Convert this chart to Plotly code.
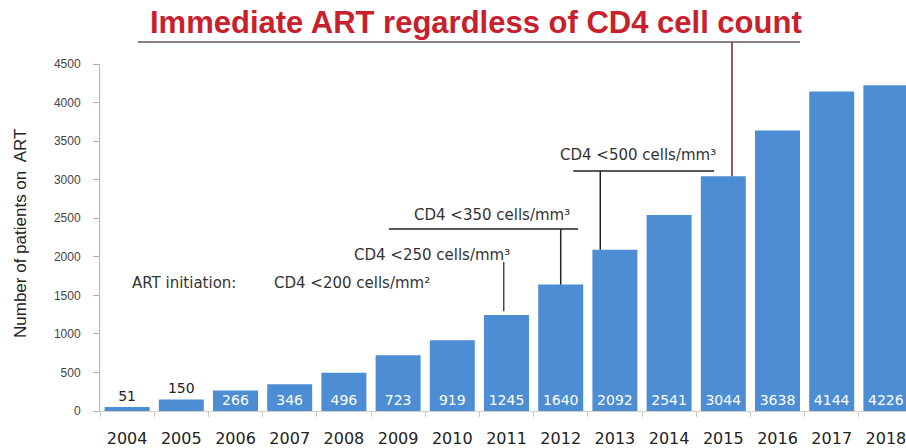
import plotly.graph_objects as go

# Patients on antiretroviral therapy per year
years = [2004, 2005, 2006, 2007, 2008, 2009, 2010, 2011, 2012, 2013, 2014, 2015, 2016, 2017, 2018]
patients = [51, 150, 266, 346, 496, 723, 919, 1245, 1640, 2092, 2541, 3044, 3638, 4144, 4226]
y_ticks = [0, 500, 1000, 1500, 2000, 2500, 3000, 3500, 4000, 4500]

# Guideline thresholds and the year each came into force
guideline_years = [2011, 2012, 2013, 2015]

W, H = 906, 448
ML, MR, MT, MB = 100, 0, 64, 37
PW, PH = W - ML - MR, H - MT - MB
Y_MAX = 4500


def px_x(px):
    return (px - ML) / PW


def px_y(py):
    return (H - MB - py) / PH


def val_from_py(py):
    return (H - MB - py) / PH * Y_MAX


BAR = "#4C8DD3"
TXT = "#333333"
LINE = "#222222"
NOTE_FONT = dict(family="DejaVu Sans", size=15, color=TXT)

fig = go.Figure()
fig.add_trace(go.Bar(
    x=years,
    y=patients,
    width=0.83,
    marker=dict(color=BAR, line=dict(width=0)),
    text=patients,
    texttemplate="%{y}",
    textposition=["outside" if v < 200 else "inside" for v in patients],
    insidetextanchor="start",
    insidetextfont=dict(family="DejaVu Sans", size=14, color="white"),
    outsidetextfont=dict(family="DejaVu Sans", size=14, color="#222222"),
    constraintext="none",
    cliponaxis=False,
    hoverinfo="skip",
))

shapes = []
annotations = []

# Headline with its underline and leader to the 2015 bar
annotations.append(dict(
    text="<b>Immediate ART regardless of CD4 cell count</b>",
    xref="paper", yref="paper", x=px_x(476), y=px_y(22),
    xanchor="center", yanchor="middle", showarrow=False,
    font=dict(family="Liberation Sans", size=31, color="#C8202C"),
))
shapes.append(dict(type="line", xref="paper", yref="paper",
                   x0=px_x(138), x1=px_x(800), y0=px_y(42), y1=px_y(42),
                   line=dict(color="#8C8080", width=2)))
shapes.append(dict(type="line", xref="x", yref="paper",
                   x0=guideline_years[3] + 0.16, x1=guideline_years[3] + 0.16,
                   y0=patients[years.index(guideline_years[3])] / Y_MAX, y1=px_y(42),
                   line=dict(color="#6A2A2A", width=1.5)))

# CD4 < 500
y500 = val_from_py(171)
shapes.append(dict(type="line", xref="x", yref="y",
                   x0=2012.23, x1=2014.83, y0=y500, y1=y500,
                   line=dict(color=LINE, width=1.5)))
shapes.append(dict(type="line", xref="x", yref="y",
                   x0=guideline_years[2] - 0.27, x1=guideline_years[2] - 0.27,
                   y0=patients[years.index(guideline_years[2])], y1=y500,
                   line=dict(color=LINE, width=1.5)))
annotations.append(dict(text="CD4 <500 cells/mm³", xref="paper", yref="paper",
                        x=px_x(718), y=px_y(155), xanchor="right", yanchor="middle",
                        showarrow=False, font=NOTE_FONT))

# CD4 < 350
y350 = val_from_py(229)
shapes.append(dict(type="line", xref="x", yref="y",
                   x0=2008.83, x1=2012.32, y0=y350, y1=y350,
                   line=dict(color=LINE, width=1.5)))
shapes.append(dict(type="line", xref="x", yref="y",
                   x0=guideline_years[1], x1=guideline_years[1],
                   y0=patients[years.index(guideline_years[1])], y1=y350,
                   line=dict(color=LINE, width=1.5)))
annotations.append(dict(text="CD4 <350 cells/mm³", xref="paper", yref="paper",
                        x=px_x(572), y=px_y(215), xanchor="right", yanchor="middle",
                        showarrow=False, font=NOTE_FONT))

# CD4 < 250
y250 = val_from_py(262)
shapes.append(dict(type="line", xref="x", yref="y",
                   x0=guideline_years[0] - 0.05, x1=guideline_years[0] - 0.05,
                   y0=patients[years.index(guideline_years[0])] + 50, y1=y250,
                   line=dict(color=LINE, width=1.2)))
annotations.append(dict(text="CD4 <250 cells/mm³", xref="paper", yref="paper",
                        x=px_x(512), y=px_y(255), xanchor="right", yanchor="middle",
                        showarrow=False, font=NOTE_FONT))

# Initial threshold
annotations.append(dict(text="ART initiation:", xref="paper", yref="paper",
                        x=px_x(130), y=px_y(283), xanchor="left", yanchor="middle",
                        showarrow=False, font=NOTE_FONT))
annotations.append(dict(text="CD4 <200 cells/mm²", xref="paper", yref="paper",
                        x=px_x(272), y=px_y(283), xanchor="left", yanchor="middle",
                        showarrow=False, font=NOTE_FONT))

# Axis title
annotations.append(dict(text="Number of patients on  ART", xref="paper", yref="paper",
                        x=px_x(20), y=px_y(234), xanchor="center", yanchor="middle",
                        textangle=-90, showarrow=False,
                        font=dict(family="Liberation Sans", size=17, color="#222222")))

fig.update_layout(
    width=W, height=H,
    margin=dict(l=ML, r=MR, t=MT, b=MB, pad=0),
    paper_bgcolor="white", plot_bgcolor="white",
    showlegend=False,
    shapes=shapes,
    annotations=annotations,
    xaxis=dict(
        range=[2003.5, 2003.5 + PW / 54.2],
        tickvals=years, ticktext=[str(y) for y in years],
        ticks="", showgrid=False, zeroline=False,
        showline=True, linecolor="#D0D0D0", linewidth=1,
        tickfont=dict(family="DejaVu Sans", size=16, color="#222222"),
        ticklabelstandoff=13,
        ticklabeloverflow="allow",
        minor=dict(ticks="outside", tick0=2003.5, dtick=1, ticklen=5,
                   tickcolor="#C8C8C8", tickwidth=1, showgrid=False),
    ),
    yaxis=dict(
        range=[0, Y_MAX], tickvals=y_ticks,
        ticks="outside", ticklen=6, tickcolor="#B0B0B0",
        showgrid=False, zeroline=False,
        showline=True, linecolor="#B0B0B0", linewidth=1,
        tickfont=dict(family="Liberation Sans", size=12, color="#444444"),
        ticklabelstandoff=10,
    ),
)

fig.write_html("out.html")
